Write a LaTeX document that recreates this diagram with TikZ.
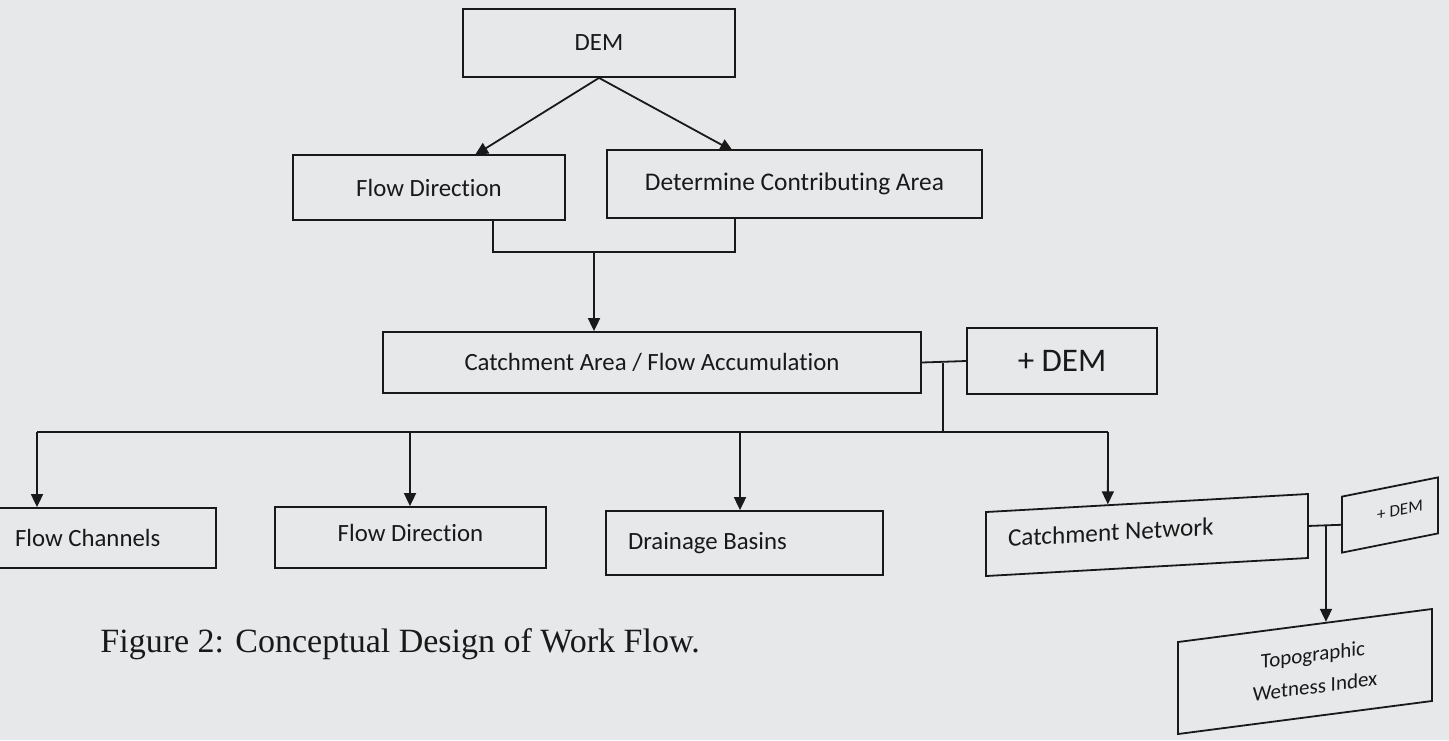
\documentclass[tikz,border=0pt]{standalone}
\usepackage{fontspec}
\setmainfont{Carlito}[Ligatures=NoCommon]
\newfontfamily\capfont{Liberation Serif}
\usetikzlibrary{arrows.meta,calc}
\definecolor{paper}{RGB}{231,232,234}
\definecolor{ink}{RGB}{25,25,25}
\tikzset{
  box/.style={draw=ink, line width=0.9pt, rectangle, inner sep=0pt, align=center, font=\fontsize{12.4}{14}\selectfont, text=ink},
  wire/.style={draw=ink, line width=0.9pt},
  arr/.style={wire, -{Triangle[length=6.5pt,width=6pt]}},
}
\newcommand{\leftin}[2]{\makebox[#1][l]{#2}}
\begin{document}
\begin{tikzpicture}[x=0.5pt,y=-0.5pt]
\fill[paper] (0,0) rectangle (1449,740);
\useasboundingbox (0,0) rectangle (1449,740);

% top level
\node[box, minimum width=136pt, minimum height=34pt] (dem) at (599,43) {DEM};
\node[box, minimum width=136pt, minimum height=32.5pt] (fd1) at (429,187.5) {Flow Direction};
\node[box, minimum width=187.5pt, minimum height=34pt, font=\fontsize{12.7}{14}\selectfont] (dca) at (794.5,184) {Determine Contributing Area};

% middle
\node[box, minimum width=269pt, minimum height=30.5pt] (ca) at (652,362.5) {Catchment Area / Flow Accumulation};
\node[box, minimum width=95pt, minimum height=33pt, font=\fontsize{16.5}{18}\selectfont] (pdem) at (1062,361) {+ DEM};

% bottom row
\node[box, minimum width=110.5pt, minimum height=30pt] (fc) at (105.5,538) {\leftin{90.5pt}{Flow Channels}};
\node[box, minimum width=135.5pt, minimum height=30.5pt, text depth=5pt] (fd2) at (410.5,537.5) {Flow Direction};
\node[box, minimum width=138.5pt, minimum height=32pt] (db) at (744.5,543) {\leftin{116.5pt}{Drainage Basins}};
\node[box, minimum width=161pt, minimum height=32pt, text depth=5pt, font=\fontsize{12.6}{14}\selectfont, yslant=0.056] (cn) at (1147,535) {\leftin{139pt}{Catchment Network}};
\node[box, minimum width=48pt, minimum height=28pt, font=\fontsize{8.5}{10}\selectfont, yslant=0.2] (sdem) at (1390,515) {\raisebox{3pt}{\hspace*{10pt}+ DEM}};
\node[box, minimum width=127pt, minimum height=46pt, font=\fontsize{10.5}{13}\selectfont, yslant=0.13] (twi) at (1305,671.5) {\hspace*{8pt}Topographic\\[3pt]\hspace*{10pt}Wetness Index};

% connectors top
\draw[arr] (dem.south) -- (475,155);
\draw[arr] (dem.south) -- (733,151);
\draw[wire] (fd1.south -| 493,0) -- (493,252) -- (735,252) -- (dca.south -| 735,0);
\draw[arr] (594,252) -- (ca.north -| 594,0);

% middle connectors
\draw[wire] (ca.east) -- (pdem.west);
\coordinate (j1) at (943,362.5);
\coordinate (j2) at (943,432);
\draw[wire] (j1) -- (j2);
\draw[wire] (37,432) -- (1108,432);
\draw[arr] (37,432) -- (fc.north -| 37,0);
\draw[arr] (410,432) -- (fd2.north -| 410,0);
\draw[arr] (740,432) -- (db.north -| 740,0);
\coordinate (cntop) at ($(cn.north west)!0.379!(cn.north east)$);
\draw[arr] (1108,432) -- (cntop);

% right connectors
\draw[wire] (cn.east) -- (sdem.west);
\coordinate (j3) at ($(cn.east)!0.53!(sdem.west)$);
\coordinate (twtop) at ($(twi.north west)!0.583!(twi.north east)$);
\draw[arr] (j3) -- (j3 |- twtop);

% caption
\node[anchor=west, font=\capfont\fontsize{17}{20}\selectfont, text=ink, inner sep=0pt] (cap) at (100,644) {Figure 2: Conceptual Design of Work Flow.};
\end{tikzpicture}
\end{document}
